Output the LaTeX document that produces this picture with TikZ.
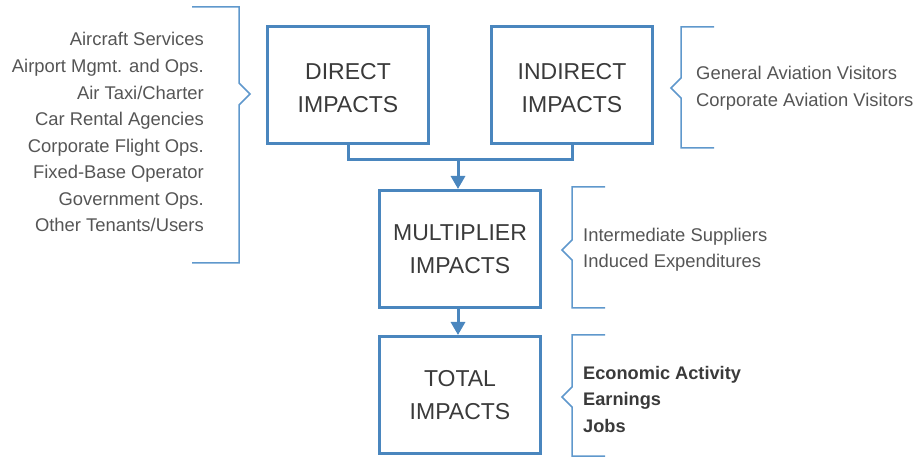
\documentclass[tikz,border=0pt]{standalone}
\usepackage{fontspec}
\setmainfont{Liberation Sans}
\usetikzlibrary{arrows.meta}
\definecolor{boxblue}{HTML}{4A86BE}
\definecolor{brblue}{HTML}{5F98CC}
\definecolor{txtgray}{HTML}{555555}
\definecolor{boxtxt}{HTML}{3A3A3A}
\begin{document}
\begin{tikzpicture}[x=1pt,y=-1pt,
  impbox/.style={draw=boxblue,line width=3pt,minimum width=161pt,minimum height=117pt,inner sep=0pt,
    text=boxtxt,font=\fontsize{23}{32.5}\selectfont,align=center},
  bracket/.style={draw=brblue,line width=1.5pt},
  flow/.style={draw=boxblue,line width=3pt},
  listtxt/.style={text=txtgray,font=\fontsize{18.4}{26.6}\selectfont,inner sep=0pt},
  boldtxt/.style={text=boxtxt,font=\fontsize{18.2}{26.6}\selectfont\bfseries,inner sep=0pt}]
\useasboundingbox (0,0) rectangle (922,457);
% boxes
\node[impbox] (direct) at (348,85) {\rule{0pt}{22pt}DIRECT\\IMPACTS};
\node[impbox] (indirect) at (572,85) {\rule{0pt}{22pt}INDIRECT\\IMPACTS};
\node[impbox] (mult) at (460,249) {MULTIPLIER\\IMPACTS};
\node[impbox] (total) at (460,395) {TOTAL\\IMPACTS};
% connectors
\coordinate (j) at (458,160);
\draw[flow] (direct.south) |- (j) -| (indirect.south);
\draw[flow,-{Triangle[width=14pt,length=13pt]}] (j) -- (j |- mult.north);
\draw[flow,-{Triangle[width=14pt,length=13pt]}] (mult.south -| j) -- (total.north -| j);
% brackets
\draw[bracket] (192,7) -- (239,7) -- (239,83) -- (250,94) -- (239,105) -- (239,263) -- (192,263);
\draw[bracket] (714,27) -- (681,27) -- (681,78) -- (671,88) -- (681,98) -- (681,148) -- (714,148);
\draw[bracket] (605,187) -- (572,187) -- (572,240) -- (562,250) -- (572,260) -- (572,308) -- (605,308);
\draw[bracket] (605,335) -- (572,335) -- (572,387) -- (562,397) -- (572,407) -- (572,456) -- (605,456);
% left list
\node[listtxt,anchor=base east] (l1) at (204,46) {Aircraft Services};
\node[listtxt,anchor=base east] (l2) at (204,72.6) {Airport Mgmt. and Ops.};
\node[listtxt,anchor=base east] (l3) at (204,99.1) {Air Taxi/Charter};
\node[listtxt,anchor=base east] (l4) at (204,125.7) {Car Rental Agencies};
\node[listtxt,anchor=base east] (l5) at (204,152.3) {Corporate Flight Ops.};
\node[listtxt,anchor=base east] (l6) at (204,178.9) {Fixed-Base Operator};
\node[listtxt,anchor=base east] (l7) at (204,205.4) {Government Ops.};
\node[listtxt,anchor=base east] (l8) at (204,232) {Other Tenants/Users};
% right lists
\node[listtxt,anchor=base west] (r1) at (696,80) {General Aviation Visitors};
\node[listtxt,anchor=base west] (r2) at (696,106.6) {Corporate Aviation Visitors};
\node[listtxt,anchor=base west] (m1) at (583,242) {Intermediate Suppliers};
\node[listtxt,anchor=base west] (m2) at (583,268) {Induced Expenditures};
\node[boldtxt,anchor=base west] (t1) at (583,379) {Economic Activity};
\node[boldtxt,anchor=base west] (t2) at (583,405.5) {Earnings};
\node[boldtxt,anchor=base west] (t3) at (583,432) {Jobs};
\end{tikzpicture}
\end{document}
